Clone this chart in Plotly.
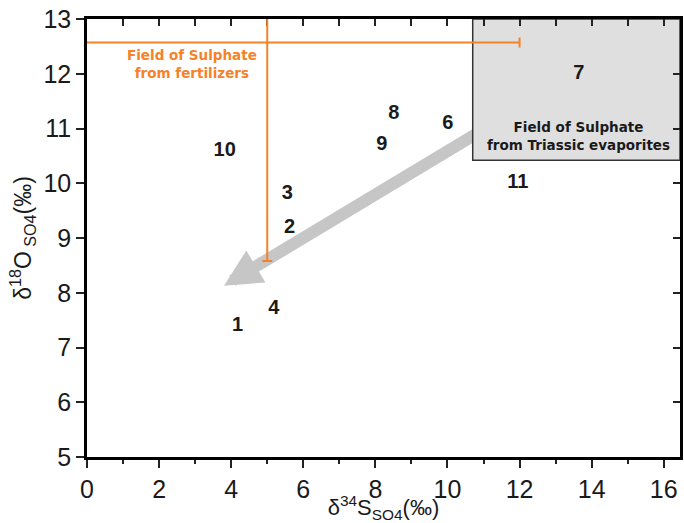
import plotly.graph_objects as go

# ---- data ----
sample_ids = ["1", "2", "3", "4", "6", "7", "8", "9", "10", "11"]
d34S = [4.18, 5.62, 5.56, 5.18, 10.01, 13.64, 8.51, 8.18, 3.82, 11.95]
d18O = [7.40, 9.19, 9.80, 7.71, 11.09, 12.00, 11.27, 10.70, 10.59, 10.01]

# fertilizer field (cross of ranges)
fert_center = (5.0, 12.57)
fert_x_range = (0.0, 12.0)
fert_y_range = (8.58, 13.0)

# Triassic evaporite field (box)
evap_x_range = (10.7, 16.45)
evap_y_range = (10.42, 13.0)

# trend arrow (tail -> head tip)
arrow_tail = (11.2, 11.06)
arrow_head = (3.80, 8.13)

x_range = [0, 16.45]
y_range = [5, 13]

ORANGE = "#F58228"
GRAY_ARROW = "#C6C6C6"
BOX_FILL = "#DFDFDF"
TXT = "#1a1a1a"
FONT = "Liberation Sans, Arial, sans-serif"
FONT2 = "DejaVu Sans, Verdana, sans-serif"

fig = go.Figure()

# sample labels
fig.add_trace(go.Scatter(
    x=d34S, y=d18O, mode="text", text=sample_ids,
    textposition="middle center",
    textfont=dict(family=FONT, size=20, color=TXT, weight="bold"),
    cliponaxis=False, showlegend=False))

# dummy trace for mirrored inside-tick axes
fig.add_trace(go.Scatter(x=[None], y=[None], xaxis="x2", yaxis="y2",
                         showlegend=False, hoverinfo="skip"))

# arrow shaft (below, so the orange cross sits on top)
dx = arrow_tail[0] - arrow_head[0]
dy = arrow_tail[1] - arrow_head[1]
shaft_end = (arrow_head[0] + 0.14 * dx, arrow_head[1] + 0.14 * dy)
head_base = (arrow_head[0] + 0.15 * dx, arrow_head[1] + 0.15 * dy)
fig.add_shape(type="line", xref="x", yref="y",
              x0=arrow_tail[0], y0=arrow_tail[1], x1=shaft_end[0], y1=shaft_end[1],
              line=dict(color=GRAY_ARROW, width=12), layer="below")

fig.add_shape(type="rect", xref="x", yref="y",
              x0=evap_x_range[0], x1=evap_x_range[1],
              y0=evap_y_range[0], y1=evap_y_range[1],
              fillcolor=BOX_FILL, line=dict(color="#333333", width=1.5),
              layer="below")

# fertilizer field cross with end caps
oline = dict(color=ORANGE, width=2)
fig.add_shape(type="line", xref="x", yref="y", layer="above", line=oline,
              x0=fert_x_range[0], x1=fert_x_range[1], y0=fert_center[1], y1=fert_center[1])
fig.add_shape(type="line", xref="x", yref="y", layer="above", line=oline,
              x0=fert_center[0], x1=fert_center[0], y0=fert_y_range[0], y1=fert_y_range[1])
fig.add_shape(type="line", xref="x", yref="y", layer="above", line=oline,
              x0=fert_x_range[1], x1=fert_x_range[1],
              ysizemode="pixel", yanchor=fert_center[1], y0=-5, y1=5)
fig.add_shape(type="line", xref="x", yref="y", layer="above", line=oline,
              xsizemode="pixel", xanchor=fert_center[0], x0=-5, x1=5,
              y0=fert_y_range[0], y1=fert_y_range[0])

fig.add_annotation(x=2.9, y=12.17, xref="x", yref="y",
                   text="Field of Sulphate<br>from fertilizers", showarrow=False,
                   font=dict(family=FONT2, size=13.5, color=ORANGE, weight="bold"),
                   align="center")
fig.add_annotation(x=13.64, y=10.86, xref="x", yref="y",
                   text="Field of Sulphate<br>from Triassic evaporites", showarrow=False,
                   font=dict(family=FONT2, size=13.5, color=TXT, weight="bold"),
                   align="center")
# arrow head
fig.add_annotation(x=arrow_head[0], y=arrow_head[1], ax=head_base[0], ay=head_base[1],
                   xref="x", yref="y", axref="x", ayref="y", text="",
                   showarrow=True, arrowhead=2, arrowsize=0.62, arrowwidth=12,
                   arrowcolor=GRAY_ARROW, standoff=0, startstandoff=0)

axis_common = dict(showgrid=False, zeroline=False, showline=True, linecolor="black",
                   linewidth=2.5, mirror=True, ticks="outside", ticklen=8,
                   tickwidth=2, tickcolor="#222", automargin=False,
                   tickfont=dict(family=FONT, size=25, color=TXT))

fig.update_layout(
    width=684, height=523,
    margin=dict(l=87, r=4, t=19, b=66, autoexpand=False),
    plot_bgcolor="white", paper_bgcolor="white",
    xaxis=dict(range=x_range, tick0=0, dtick=2,
               minor=dict(dtick=1, ticks="outside", ticklen=4, tickwidth=2, tickcolor="#222"),
               title=dict(text="δ<sup>34</sup>S<sub>SO4</sub>(‰)",
                          font=dict(family=FONT, size=22, color=TXT), standoff=1),
               **axis_common),
    yaxis=dict(range=y_range, tick0=5, dtick=1,
               title=dict(text="δ<sup>18</sup>O<sub> SO4</sub>(‰)",
                          font=dict(family=FONT, size=23, color=TXT), standoff=6),
               **axis_common),
    xaxis2=dict(overlaying="x", side="top", anchor="y2", range=x_range, tick0=0, dtick=1,
                ticks="inside", ticklen=7, tickwidth=2, tickcolor="#222", automargin=False,
                showticklabels=False, showgrid=False, zeroline=False, showline=False),
    yaxis2=dict(overlaying="y", side="right", anchor="x2", range=y_range, tick0=5, dtick=1,
                ticks="inside", ticklen=7, tickwidth=2, tickcolor="#222", automargin=False,
                showticklabels=False, showgrid=False, zeroline=False, showline=False),
)

fig.write_html("out.html", config={"displayModeBar": False},
               post_script="document.body.style.margin='0';document.body.style.overflow='hidden';")
